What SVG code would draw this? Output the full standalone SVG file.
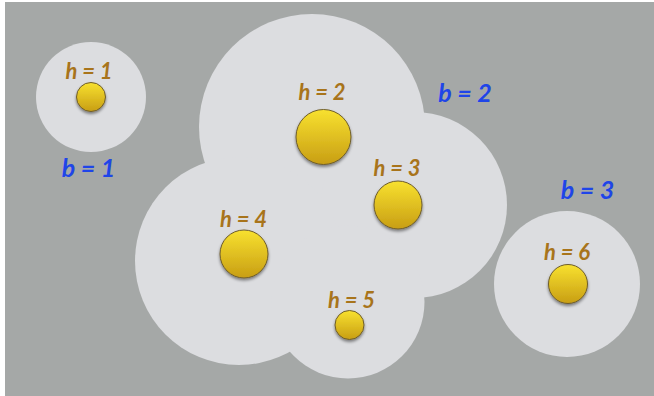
<svg xmlns="http://www.w3.org/2000/svg" width="654" height="396" viewBox="0 0 654 396">
  <defs>
    <linearGradient id="ballGrad" x1="0" y1="0" x2="0" y2="1">
      <stop offset="0" stop-color="#f8e12f"/>
      <stop offset="1" stop-color="#c89e14"/>
    </linearGradient>
    <filter id="shadow" x="-30%" y="-30%" width="160%" height="170%">
      <feDropShadow dx="0" dy="2" stdDeviation="1.4" flood-color="#000" flood-opacity="0.45"/>
    </filter>
    <filter id="soft" x="-5%" y="-5%" width="110%" height="110%">
      <feGaussianBlur stdDeviation="0.6"/>
    </filter>
  </defs>
  <style>
    .bg { fill: #a5a8a7; }
    .region { fill: #dcdde0; }
    .ball { fill: url(#ballGrad); stroke: #6e5d2c; stroke-width: 1; filter: url(#shadow); }
    .h { font-family: Lato, "Open Sans", "DejaVu Sans", sans-serif; font-style: italic; font-weight: bold; font-size: 22px; fill: #a8741b; text-anchor: middle; }
    .b { font-family: Lato, "Open Sans", "DejaVu Sans", sans-serif; font-style: italic; font-weight: bold; font-size: 25px; fill: #1f45e8; text-anchor: middle; }
  </style>

  <rect class="bg" x="5" y="2" width="649" height="394"/>

  <g id="regions" filter="url(#soft)">
    <circle class="region" cx="91" cy="97" r="55"/>
    <circle class="region" cx="312" cy="127" r="113"/>
    <circle class="region" cx="414" cy="205" r="93"/>
    <circle class="region" cx="239" cy="261" r="104"/>
    <circle class="region" cx="348" cy="302" r="76.5"/>
    <circle class="region" cx="567" cy="284" r="73"/>
  </g>

  <g id="connectors"/>

  <g id="node-h1">
    <circle class="ball" cx="91" cy="97" r="14.5"/>
    <text class="h" x="89" y="79">h = 1</text>
  </g>
  <g id="node-h2">
    <circle class="ball" cx="323.5" cy="137" r="27.5"/>
    <text class="h" x="322" y="100">h = 2</text>
  </g>
  <g id="node-h3">
    <circle class="ball" cx="398" cy="205" r="24"/>
    <text class="h" x="397" y="176">h = 3</text>
  </g>
  <g id="node-h4">
    <circle class="ball" cx="244" cy="254" r="24"/>
    <text class="h" x="243.5" y="227">h = 4</text>
  </g>
  <g id="node-h5">
    <circle class="ball" cx="349.5" cy="325" r="14.5"/>
    <text class="h" x="351.5" y="307.5">h = 5</text>
  </g>
  <g id="node-h6">
    <circle class="ball" cx="568" cy="284" r="19.5"/>
    <text class="h" x="567" y="260">h = 6</text>
  </g>

  <g id="label-b1"><text class="b" x="88.5" y="177">b = 1</text></g>
  <g id="label-b2"><text class="b" x="465" y="101.5">b = 2</text></g>
  <g id="label-b3"><text class="b" x="587.5" y="199">b = 3</text></g>
</svg>
